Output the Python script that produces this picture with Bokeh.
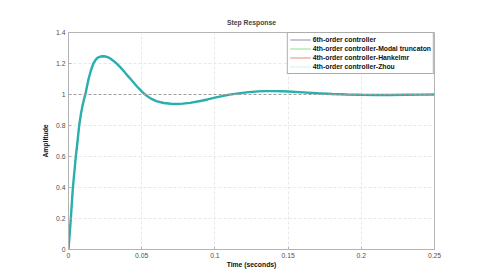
from bokeh.plotting import figure
from bokeh.models import FixedTicker, Span, Legend, LegendItem, Title
from bokeh.embed import file_html
from bokeh.resources import INLINE

# ---- data ----
time_s = [0, 0.0008, 0.0016, 0.0023, 0.003, 0.004, 0.005, 0.0062, 0.0073, 0.0085,
          0.0095, 0.0105, 0.0115, 0.0126, 0.0137, 0.0153, 0.017, 0.0185, 0.020, 0.0218,
          0.0235, 0.0255, 0.0275, 0.029, 0.031, 0.0333, 0.0355, 0.038, 0.0405, 0.0433,
          0.0465, 0.05, 0.053, 0.056, 0.06, 0.065, 0.07, 0.074, 0.078, 0.083,
          0.09, 0.095, 0.1, 0.105, 0.11, 0.115, 0.12, 0.125, 0.13, 0.135,
          0.14, 0.145, 0.15, 0.16, 0.17, 0.18, 0.19, 0.2, 0.21, 0.22,
          0.23, 0.24, 0.25]
amp_6th = [0, 0.1, 0.2, 0.3, 0.4, 0.5, 0.6, 0.7, 0.8, 0.875,
           0.925, 0.965, 1.0, 1.05, 1.1, 1.155, 1.2, 1.223, 1.238, 1.245,
           1.247, 1.245, 1.238, 1.229, 1.215, 1.196, 1.175, 1.148, 1.12, 1.09,
           1.055, 1.02, 0.995, 0.975, 0.957, 0.945, 0.94, 0.939, 0.941, 0.946,
           0.958, 0.968, 0.98, 0.99, 0.999, 1.006, 1.012, 1.017, 1.02, 1.022,
           1.022, 1.021, 1.019, 1.014, 1.008, 1.003, 1.0, 0.998, 0.997, 0.997,
           0.998, 0.999, 1.0]
amp_modal = list(amp_6th)
amp_hankel = list(amp_6th)
amp_zhou = list(amp_6th)
final_value = 1.0

series_names = ["6th-order controller", "4th-order controller-Modal truncaton",
                "4th-order controller-Hankelmr", "4th-order controller-Zhou"]

x_ticks = [0, 0.05, 0.1, 0.15, 0.2, 0.25]
x_tick_labels = ["0", "0.05", "0.1", "0.15", "0.2", "0.25"]
y_ticks = [0, 0.2, 0.4, 0.6, 0.8, 1.0, 1.2, 1.4]
y_tick_labels = ["0", "0.2", "0.4", "0.6", "0.8", "1", "1.2", "1.4"]

FONT = "Liberation Sans"
AX = "#b4b4b4"

p = figure(frame_width=366, frame_height=217, x_range=(0, 0.25), y_range=(0, 1.4),
           output_backend="svg", toolbar_location=None,
           min_border_left=68, min_border_right=30, min_border_top=32, min_border_bottom=26)
# small spacer between the frame and the title (pushes the title up a little)
p.add_layout(Title(text=" ", text_font_size="3px", standoff=0), "above")
p.add_layout(Title(text="Step Response", align="center", text_font=FONT,
                   text_font_size="6.8px", text_font_style="bold", standoff=4), "above")

p.outline_line_color = AX
p.background_fill_color = "white"
p.border_fill_color = "white"

for ax, ticks, labels in ((p.xaxis[0], x_ticks, x_tick_labels), (p.yaxis[0], y_ticks, y_tick_labels)):
    ax.ticker = FixedTicker(ticks=ticks)
    ax.major_label_overrides = {t: l for t, l in zip(ticks, labels)}
    ax.minor_tick_line_color = None
    ax.major_tick_in = 3
    ax.major_tick_out = 0
    ax.major_tick_line_color = AX
    ax.axis_line_color = AX
    ax.major_label_text_font = FONT
    ax.major_label_text_font_size = "6.8px"
    ax.major_label_text_color = "#505050"
    ax.axis_label_text_font = FONT
    ax.axis_label_text_font_size = "6.8px"
    ax.axis_label_text_font_style = "bold"
    ax.axis_label_text_color = "#111111"
    ax.major_label_standoff = 3

p.xaxis.axis_label_standoff = 0
p.yaxis.axis_label_standoff = 4
p.xaxis.axis_label = "Time (seconds)"
p.yaxis.axis_label = "Amplitude"

p.xgrid.ticker = FixedTicker(ticks=x_ticks)
p.ygrid.ticker = FixedTicker(ticks=y_ticks)
p.grid.grid_line_color = "#e8e8e8"
p.grid.grid_line_dash = "3 2"

p.add_layout(Span(location=final_value, dimension="width", line_color="#a0a0a0",
                  line_dash="3 2", line_width=1))

r1 = p.line(time_s, amp_6th, line_color="#8c8cc6", line_width=1)
r2 = p.line(time_s, amp_modal, line_color="#8edc8e", line_width=1)
r3 = p.line(time_s, amp_hankel, line_color="#e38a7c", line_width=1)
r4 = p.line(time_s, amp_zhou, line_color="#9fe2e2", line_width=1.2, line_dash="1 1")
p.line(time_s, amp_zhou, line_color="#2aafaf", line_width=2.4)

legend = Legend(items=[LegendItem(label=n, renderers=[r]) for n, r in zip(series_names, [r1, r2, r3, r4])],
                location="top_right", margin=0, padding=2, spacing=0,
                label_height=9, glyph_height=9, glyph_width=21, label_standoff=2,
                border_line_color="#5a5a5a", border_line_width=1,
                label_text_font=FONT, label_text_font_size="6.8px",
                label_text_font_style="bold", label_text_color="#111111",
                background_fill_color="white", background_fill_alpha=1)
p.add_layout(legend)

open("out.html", "w").write(file_html(p, INLINE))
